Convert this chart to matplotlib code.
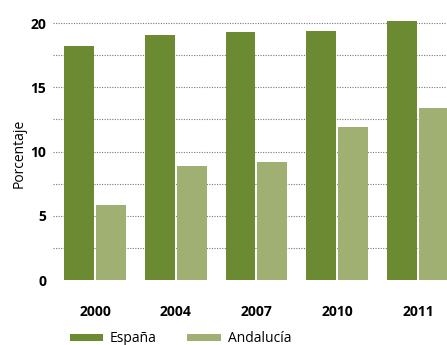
import numpy as np
import matplotlib
matplotlib.use('Agg')
import matplotlib.pyplot as plt

plt.rcParams['font.family'] = ['Open Sans', 'DejaVu Sans']

years = ['2000', '2004', '2007', '2010', '2011']
espana = [18.2, 19.1, 19.3, 19.4, 20.15]
andalucia = [5.85, 8.9, 9.2, 11.9, 13.4]

c_esp = '#6b8a31'
c_and = '#a0b073'

fig = plt.figure(figsize=(4.47, 3.45), dpi=100)
ax = fig.add_axes([0.1186, 0.1884, 0.8814, 0.782])

x = np.arange(len(years))
w = 0.37
gap = 0.025
ax.bar(x - w / 2 - gap / 2, espana, width=w, color=c_esp, label='España', zorder=2)
ax.bar(x + w / 2 + gap / 2, andalucia, width=w, color=c_and, label='Andalucía', zorder=2)

ax.set_xlim(-0.52, 4.36)
ax.set_ylim(0, 21)

# dotted grid every 2.5, no line at zero
for yv in np.arange(2.5, 20.1, 2.5):
    ax.axhline(yv, color='#777777', linestyle=(0, (1, 1.3)), linewidth=0.8, zorder=1)

ax.set_yticks([0, 5, 10, 15, 20])
ax.set_xticks(x)
ax.set_xticklabels(years, fontsize=10, fontweight='bold')
for lab in ax.get_yticklabels():
    lab.set_fontsize(10)
    lab.set_fontweight('bold')
ax.tick_params(axis='both', length=0)
ax.tick_params(axis='y', pad=5)
ax.tick_params(axis='x', pad=18)

ax.set_ylabel('Porcentaje', fontsize=10)
ax.yaxis.set_label_coords(-0.068, 0.47)

for s in ax.spines.values():
    s.set_visible(False)

fig.legend(loc='lower left', bbox_to_anchor=(0.128, -0.04), ncol=2, frameon=False,
           fontsize=10, handlelength=2.4, handleheight=0.45, handletextpad=0.5,
           columnspacing=2.2)

fig.savefig('out.png', dpi=100)
